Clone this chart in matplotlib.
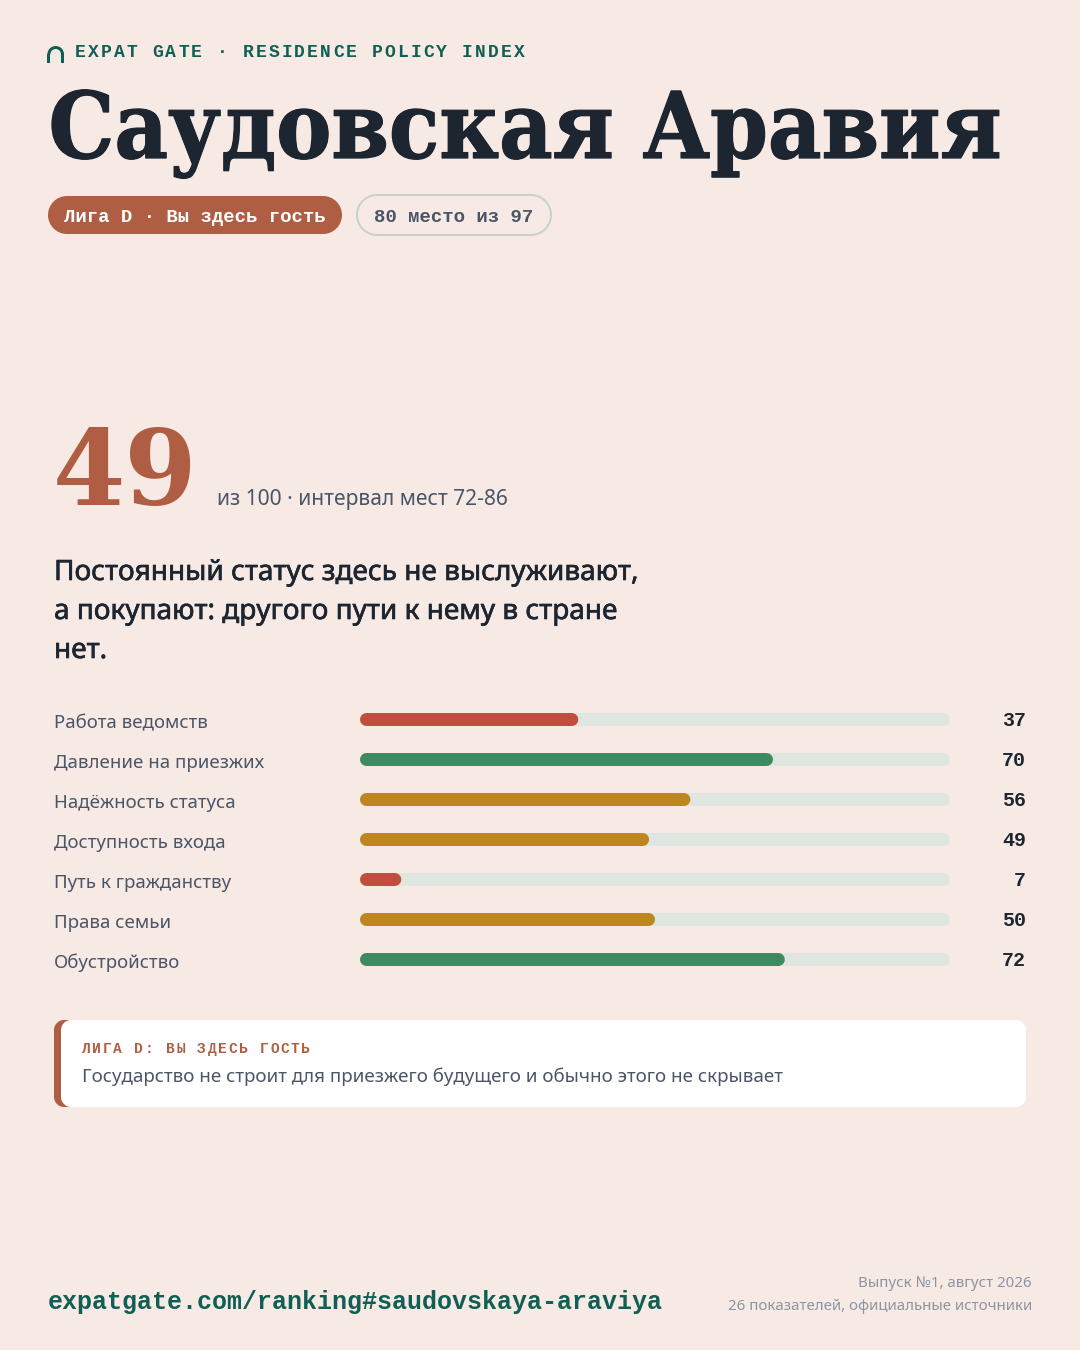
import matplotlib as mpl
mpl.use('Agg')
import matplotlib.pyplot as plt
import matplotlib.patheffects as pe
from matplotlib.patches import PathPatch, Arc, Rectangle
from matplotlib.path import Path

# данные
categories = ['Работа ведомств', 'Давление на приезжих', 'Надёжность статуса',
              'Доступность входа', 'Путь к гражданству', 'Права семьи', 'Обустройство']
values = [37, 70, 56, 49, 7, 50, 72]
bar_colors = ['#C14D3F', '#3F8A60', '#BE861E', '#BE861E', '#C14D3F', '#BE861E', '#3F8A60']
score = '49'
score_note = 'из 100 · интервал мест 72-86'
statement = ['Постоянный статус здесь не выслуживают,',
             'а покупают: другого пути к нему в стране',
             'нет.']

BG = '#F7EAE5'
INK = '#1C2530'
TEAL = '#0F5F54'
TERRA = '#B05E43'
GREY = '#4A5568'
MUTED = '#8C95A3'
SANS = ['Noto Sans', 'DejaVu Sans']
MONO = ['Liberation Mono', 'DejaVu Sans Mono']
SERIF = ['DejaVu Serif']

fig = plt.figure(figsize=(10.8, 13.5), dpi=100, facecolor=BG)

# вся страница в пикселях
page = fig.add_axes([0, 0, 1, 1])
page.set_xlim(0, 1080)
page.set_ylim(1350, 0)
page.axis('off')


def px(size):
    return size * 0.72


def label(x, y, s, size, color, family=SANS, weight='normal', ha='left'):
    return page.text(x, y, s, fontsize=px(size), color=color, family=family,
                     fontweight=weight, ha=ha, va='baseline')


def tracked(x, y, s, size, step, color, weight='bold'):
    # разрядка: matplotlib её не умеет, ставим моноширинные знаки по шагу
    for i, ch in enumerate(s):
        if ch != ' ':
            label(x + i * step, y, ch, size, color, MONO, weight)


def rounded(x, y, w, h, r, **kw):
    # прямоугольник с круглыми углами (кубические дуги)
    k = r * 0.4477
    x1, y1 = x + w, y + h
    verts = [(x + r, y), (x1 - r, y), (x1 - k, y), (x1, y + k), (x1, y + r),
             (x1, y1 - r), (x1, y1 - k), (x1 - k, y1), (x1 - r, y1),
             (x + r, y1), (x + k, y1), (x, y1 - k), (x, y1 - r),
             (x, y + r), (x, y + k), (x + k, y), (x + r, y), (x + r, y)]
    codes = [Path.MOVETO, Path.LINETO, Path.CURVE4, Path.CURVE4, Path.CURVE4,
             Path.LINETO, Path.CURVE4, Path.CURVE4, Path.CURVE4,
             Path.LINETO, Path.CURVE4, Path.CURVE4, Path.CURVE4,
             Path.LINETO, Path.CURVE4, Path.CURVE4, Path.CURVE4, Path.CLOSEPOLY]
    page.add_patch(PathPatch(Path(verts, codes), **kw))


# шапка
page.add_patch(Arc((55.7, 54.3), 13.6, 13.6, theta1=180, theta2=360, color=TEAL, lw=px(3)))
page.add_patch(Rectangle((47.4, 54.3), 3, 8.5, color=TEAL, lw=0))
page.add_patch(Rectangle((61, 54.3), 3, 8.5, color=TEAL, lw=0))
tracked(75, 57, 'EXPAT GATE · RESIDENCE POLICY INDEX', 18, 12.9, TEAL)

title = label(48.5, 158, 'Саудовская Аравия', 92, INK, SERIF, 'bold')
title.set_fontstretch('condensed')
title.set_path_effects([pe.withStroke(linewidth=0.9, foreground=INK)])

# плашки
rounded(48, 196, 294, 38, 19, fc=TERRA, ec='none')
label(64, 222, 'Лига D · Вы здесь гость', 19, 'white', MONO, 'bold')
rounded(357, 195, 194, 40, 20, fc='none', ec='#C8D2CB', lw=px(2))
label(374, 222, '80 место из 97', 19, GREY, MONO, 'bold')

# общий балл
label(53, 505, score, 104, TERRA, SERIF, 'bold')
label(217, 505, score_note, 21, GREY)

for i, line in enumerate(statement):
    t = label(54, 580 + i * 39, line, 28, INK)
    t.set_path_effects([pe.withStroke(linewidth=0.45, foreground=INK)])

# шкалы: ось 0-100 на 590 px, по 40 px на строку
bars = fig.add_axes([360 / 1080, 1 - 980 / 1350, 590 / 1080, 280 / 1350])
bars.set_xlim(0, 100)
bars.set_ylim(6.5 + 0.0125, -0.5 + 0.0125)
bars.axis('off')
BAR_W = px(13)
CAP = 6.5 / 5.9  # круглый конец линии в единицах оси
for i, (name, v, c) in enumerate(zip(categories, values, bar_colors)):
    bars.plot([CAP, 100 - CAP], [i, i], color='#DFE5DF', lw=BAR_W, solid_capstyle='round', snap=False)
    bars.plot([CAP, v - CAP], [i, i], color=c, lw=BAR_W, solid_capstyle='round', snap=False)
    label(54, 728 + i * 40, name, 18.7, GREY)
    label(1026, 726 + i * 40, str(v), 20, INK, MONO, 'bold', ha='right')

# карточка
rounded(54, 1020, 100, 87, 10, fc=TERRA, ec='none')
rounded(61, 1020, 965, 87, 10, fc='white', ec='none')
tracked(82, 1053, 'ЛИГА D: ВЫ ЗДЕСЬ ГОСТЬ', 14.5, 10.45, TERRA)
label(82, 1082, 'Государство не строит для приезжего будущего и обычно этого не скрывает', 18.75, GREY)

# подвал
label(48, 1309, 'expatgate.com/ranking#saudovskaya-araviya', 25, TEAL, MONO, 'bold')
label(1032, 1287, 'Выпуск №1, август 2026', 15.1, MUTED, ha='right')
label(1032, 1310, '26 показателей, официальные источники', 15.05, MUTED, ha='right')

fig.savefig('out.png', dpi=100, facecolor=BG)
plt.close()
